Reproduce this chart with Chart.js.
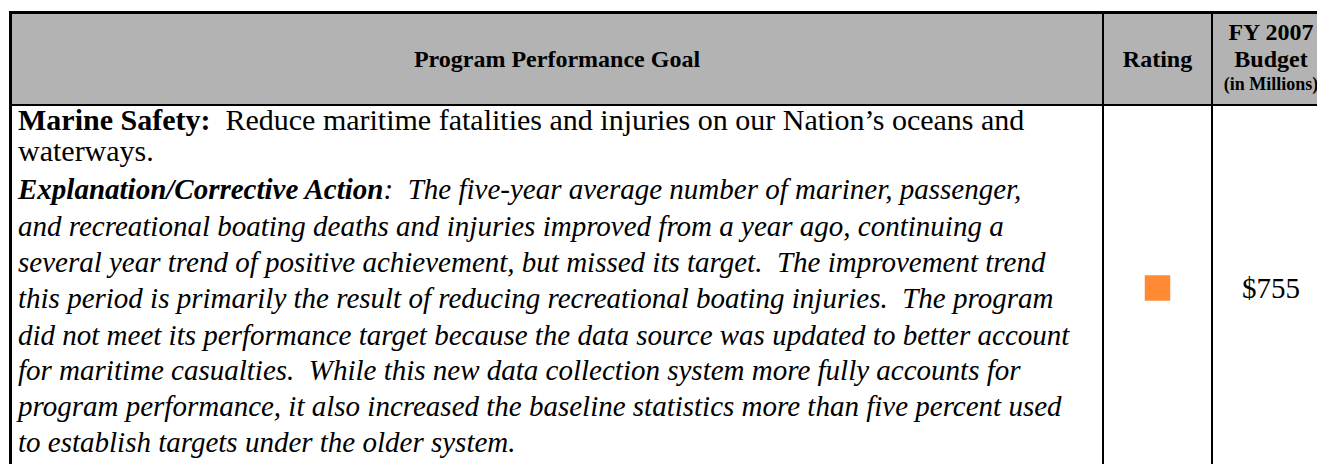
<!DOCTYPE html>
<html>
<head>
<meta charset="utf-8">
<script src="https://cdn.jsdelivr.net/npm/chart.js@4.4.1/dist/chart.umd.min.js"></script>
<style>
  html, body { margin:0; padding:0; background:#fff; }
  body { width:1317px; height:464px; overflow:hidden; position:relative; font-family:"Liberation Serif","Times New Roman",serif; color:#000; }
  .abs { position:absolute; }
  .hdr { background:#b3b3b3; }
  .line { position:absolute; left:18px; white-space:nowrap; font-size:29px; line-height:32px; }
  .reg { font-size:30px; }
  .it { font-style:italic; }
  .b { font-weight:bold; }
  .htext { position:absolute; font-weight:bold; text-align:center; white-space:nowrap; }
</style>
</head>
<body>
<div id="root"></div>
<script>
// ---- data ----
const columnHeaders = ['Program Performance Goal', 'Rating', 'FY 2007', 'Budget', '(in Millions)'];
const goals = ['Marine Safety:'];
const goalText = ['Reduce maritime fatalities and injuries on our Nation\u2019s oceans and', 'waterways.'];
const explanationLabel = 'Explanation/Corrective Action';
const explanationLines = [
  ':  The five-year average number of mariner, passenger,',
  'and recreational boating deaths and injuries improved from a year ago, continuing a',
  'several year trend of positive achievement, but missed its target.  The improvement trend',
  'this period is primarily the result of reducing recreational boating injuries.  The program',
  'did not meet its performance target because the data source was updated to better account',
  'for maritime casualties.  While this new data collection system more fully accounts for',
  'program performance, it also increased the baseline statistics more than five percent used',
  'to establish targets under the older system.'
];
const ratingLevels = ['Met', 'Not Met'];
const ratings = ['Not Met'];
const ratingColors = { 'Met': '#2e9e3e', 'Not Met': '#ff8a33' };
const budgets = [755];

// ---- layout ----
const root = document.getElementById('root');
function el(cls, styles, html) {
  const d = document.createElement('div');
  d.className = cls;
  Object.assign(d.style, styles);
  if (html !== undefined) d.innerHTML = html;
  root.appendChild(d);
  return d;
}
// header background
el('abs hdr', { left:'10px', top:'12px', width:'1320px', height:'93px' });
// borders
el('abs', { left:'9px', top:'11px', width:'1320px', height:'3px', background:'#000' });
el('abs', { left:'9px', top:'11px', width:'3px', height:'470px', background:'#000' });
el('abs', { left:'9px', top:'104px', width:'1320px', height:'2px', background:'#000' });
el('abs', { left:'1102px', top:'11px', width:'2px', height:'470px', background:'#000' });
el('abs', { left:'1211px', top:'11px', width:'2px', height:'470px', background:'#000' });

// header texts
el('htext', { left:'12px', width:'1090px', top:'45px', fontSize:'24px', lineHeight:'28px' }, columnHeaders[0]);
el('htext', { left:'1104px', width:'107px', top:'45px', fontSize:'24px', lineHeight:'28px' }, columnHeaders[1]);
el('htext', { left:'1213px', width:'116px', top:'19px', fontSize:'24px', lineHeight:'26px' }, columnHeaders[2]);
el('htext', { left:'1213px', width:'116px', top:'46px', fontSize:'24px', lineHeight:'26px' }, columnHeaders[3]);
el('htext', { left:'1213px', width:'116px', top:'74px', fontSize:'18px', lineHeight:'20px' }, columnHeaders[4]);

// body text
const lineCenters = [121, 152, 190, 226.5, 263, 299, 335.5, 371, 407, 443];
el('line reg', { top:(lineCenters[0]-17)+'px' }, '<span class="b">' + goals[0] + '</span>&nbsp; ' + goalText[0]);
el('line reg', { top:(lineCenters[1]-17)+'px' }, goalText[1]);
el('line it', { top:(lineCenters[2]-17)+'px' }, '<span class="b">' + explanationLabel + '</span>' + explanationLines[0].replace('  ', '&nbsp; '));
for (let i = 1; i < explanationLines.length; i++) {
  el('line it', { top:(lineCenters[i+2]-17)+'px' }, explanationLines[i].replace(/  /g, '&nbsp; '));
}

// budget
el('htext', { left:'1213px', width:'116px', top:'272px', fontSize:'29px', lineHeight:'32px', fontWeight:'normal' }, '$' + budgets[0]);

// rating marker via Chart.js
const wrap = el('abs', { left:'1104px', top:'106px', width:'107px', height:'364px' });
const cv = document.createElement('canvas');
wrap.appendChild(cv);
new Chart(cv, {
  type: 'scatter',
  data: {
    datasets: [{
      data: ratings.map((r, i) => ({ x: i, y: 0 })),
      pointStyle: 'rect',
      pointRadius: 18,
      pointHoverRadius: 18,
      backgroundColor: ratings.map(r => ratingColors[r]),
      borderWidth: 0
    }]
  },
  options: {
    responsive: true,
    maintainAspectRatio: false,
    animation: false,
    events: [],
    layout: { padding: 0 },
    plugins: { legend: { display: false }, tooltip: { enabled: false } },
    scales: {
      x: { display: false, min: -1, max: 1 },
      y: { display: false, min: -1, max: 1 }
    }
  }
});
</script>
</body>
</html>
